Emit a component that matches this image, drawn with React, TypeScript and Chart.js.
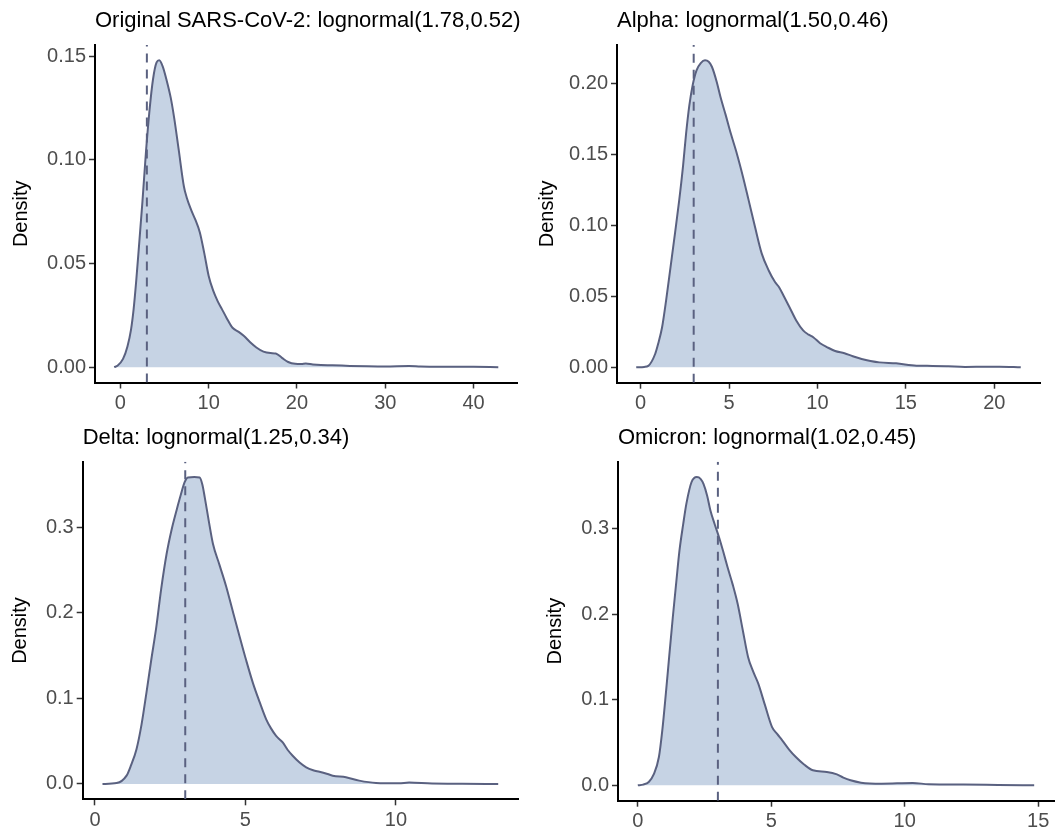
import React, { useEffect, useRef } from "react";
import { Chart, registerables } from "chart.js";

Chart.register(...registerables);
Chart.defaults.font.family = "'Liberation Sans', Arial, Helvetica, sans-serif";

// ---------- DATA ----------
const panelTitles = [
  "Original SARS-CoV-2: lognormal(1.78,0.52)",
  "Alpha: lognormal(1.50,0.46)",
  "Delta: lognormal(1.25,0.34)",
  "Omicron: lognormal(1.02,0.45)",
];

const referenceLineX = 3;

const originalX = [-0.7, -0.3, 0.3, 0.8, 1.2, 1.5, 1.8, 2.1, 2.5, 2.9, 3.3, 3.7, 4.1, 4.4, 4.8, 5.2, 5.7, 6.1, 6.6, 7.2, 7.5, 8.0, 8.5, 9.0, 9.5, 10.0, 10.5, 11.0, 11.5, 12.0, 12.7, 13.4, 14.0, 14.7, 15.4, 16.2, 17.0, 17.6, 18.3, 19.0, 19.8, 20.5, 21.0, 21.8, 22.7, 24, 26, 28, 30, 32.7, 34, 36, 38, 40, 42.8];
const originalY = [0, 0.0008, 0.004, 0.010, 0.018, 0.028, 0.042, 0.058, 0.080, 0.104, 0.124, 0.139, 0.147, 0.148, 0.145, 0.139, 0.130, 0.120, 0.105, 0.087, 0.082, 0.076, 0.071, 0.065, 0.055, 0.044, 0.037, 0.032, 0.028, 0.024, 0.019, 0.017, 0.015, 0.012, 0.0095, 0.0075, 0.0068, 0.0066, 0.0045, 0.0025, 0.0016, 0.0015, 0.0018, 0.0013, 0.0010, 0.0009, 0.0006, 0.0004, 0.0003, 0.0005, 0.0003, 0.0002, 0.0002, 0.00015, 0];

const alphaX = [-0.25, 0.2, 0.43, 0.82, 1.0, 1.21, 1.45, 1.69, 1.95, 2.18, 2.4, 2.57, 2.75, 2.95, 3.16, 3.4, 3.64, 3.85, 4.03, 4.3, 4.52, 4.8, 5.1, 5.45, 5.79, 6.1, 6.47, 6.85, 7.25, 7.6, 7.83, 8.1, 8.42, 8.8, 9.19, 9.5, 9.78, 10.15, 10.56, 11.0, 11.53, 12.0, 12.5, 13.0, 13.5, 14.45, 15.6, 16.5, 17.4, 18.35, 19.3, 20.3, 21.5];
const alphaY = [0, 0.0003, 0.001, 0.0094, 0.017, 0.028, 0.048, 0.0705, 0.095, 0.1175, 0.142, 0.1645, 0.184, 0.199, 0.209, 0.214, 0.216, 0.215, 0.2115, 0.201, 0.190, 0.178, 0.1645, 0.150, 0.134, 0.118, 0.0987, 0.080, 0.068, 0.060, 0.0564, 0.050, 0.0423, 0.033, 0.026, 0.023, 0.021, 0.017, 0.0141, 0.0115, 0.0099, 0.0078, 0.0059, 0.0045, 0.0035, 0.0028, 0.0012, 0.001, 0.0007, 0.0003, 0.0004, 0.0005, 0];

const deltaX = [0.25, 0.72, 1.05, 1.2, 1.38, 1.55, 1.71, 1.87, 2.04, 2.2, 2.38, 2.55, 2.71, 2.85, 2.98, 3.09, 3.3, 3.48, 3.57, 3.65, 3.78, 3.92, 4.14, 4.36, 4.58, 4.81, 5.03, 5.25, 5.47, 5.69, 5.85, 6.02, 6.24, 6.4, 6.57, 6.8, 7.02, 7.25, 7.46, 7.7, 7.9, 8.34, 8.78, 9.34, 10.1, 10.44, 11.2, 12.2, 13.4];
const deltaY = [0, 0.001, 0.0097, 0.022, 0.0407, 0.07, 0.1066, 0.145, 0.184, 0.228, 0.269, 0.298, 0.320, 0.338, 0.353, 0.3585, 0.359, 0.3585, 0.350, 0.335, 0.308, 0.281, 0.256, 0.231, 0.202, 0.172, 0.144, 0.118, 0.096, 0.0756, 0.065, 0.0562, 0.0485, 0.040, 0.033, 0.025, 0.0194, 0.016, 0.0143, 0.012, 0.0097, 0.0078, 0.0039, 0.0012, 0.0008, 0.0016, 0.0004, 0.0002, 0];

const omicronX = [0, 0.2, 0.41, 0.6, 0.79, 0.92, 1.05, 1.18, 1.31, 1.44, 1.56, 1.7, 1.82, 2.01, 2.21, 2.35, 2.46, 2.6, 2.72, 2.88, 3.04, 3.2, 3.36, 3.55, 3.74, 3.94, 4.13, 4.32, 4.51, 4.77, 5.03, 5.22, 5.41, 5.66, 5.92, 6.24, 6.56, 7.08, 7.46, 7.7, 7.97, 8.36, 9.13, 10.3, 10.9, 12.2, 13.5, 14.85];
const omicronY = [0, 0.0008, 0.0039, 0.013, 0.033, 0.065, 0.107, 0.152, 0.196, 0.237, 0.274, 0.305, 0.329, 0.354, 0.360, 0.358, 0.352, 0.338, 0.321, 0.305, 0.290, 0.273, 0.255, 0.235, 0.212, 0.180, 0.150, 0.133, 0.119, 0.093, 0.068, 0.060, 0.0525, 0.042, 0.033, 0.024, 0.0175, 0.0156, 0.0128, 0.009, 0.0058, 0.0031, 0.0019, 0.0027, 0.0012, 0.0008, 0.0004, 0];

const originalXTicks = [0, 10, 20, 30, 40];
const alphaXTicks = [0, 5, 10, 15, 20];
const deltaXTicks = [0, 5, 10];
const omicronXTicks = [0, 5, 10, 15];

const originalYTicks = [0, 0.05, 0.1, 0.15];
const originalYLabels = ["0.00", "0.05", "0.10", "0.15"];
const alphaYTicks = [0, 0.05, 0.1, 0.15, 0.2];
const alphaYLabels = ["0.00", "0.05", "0.10", "0.15", "0.20"];
const deltaYTicks = [0, 0.1, 0.2, 0.3];
const deltaYLabels = ["0.0", "0.1", "0.2", "0.3"];
const omicronYTicks = [0, 0.1, 0.2, 0.3];
const omicronYLabels = ["0.0", "0.1", "0.2", "0.3"];

// ---------- STYLE ----------
const LINE_COLOR = "#5a6180";
const FILL_COLOR = "#c6d3e4";
const TICK_TEXT = "#4d4d4d";

type PanelDef = {
  title: string;
  xs: number[];
  ys: number[];
  xTicks: number[];
  yTicks: number[];
  yLabels: string[];
  box: { left: number; top: number; width: number; height: number };
  plot: { left: number; top: number; right: number; bottom: number };
  yTitlePad: number;
};

const panels: PanelDef[] = [
  {
    title: panelTitles[0], xs: originalX, ys: originalY, xTicks: originalXTicks, yTicks: originalYTicks, yLabels: originalYLabels,
    box: { left: 0, top: 0, width: 527, height: 418 },
    plot: { left: 95, top: 45, right: 517.5, bottom: 382.5 }, yTitlePad: 9,
  },
  {
    title: panelTitles[1], xs: alphaX, ys: alphaY, xTicks: alphaXTicks, yTicks: alphaYTicks, yLabels: alphaYLabels,
    box: { left: 527, top: 0, width: 528, height: 418 },
    plot: { left: 617, top: 45, right: 1040, bottom: 382.7 }, yTitlePad: 8,
  },
  {
    title: panelTitles[2], xs: deltaX, ys: deltaY, xTicks: deltaXTicks, yTicks: deltaYTicks, yLabels: deltaYLabels,
    box: { left: 0, top: 418, width: 527, height: 419 },
    plot: { left: 82.7, top: 461.7, right: 518, bottom: 799.3 }, yTitlePad: 8.5,
  },
  {
    title: panelTitles[3], xs: omicronX, ys: omicronY, xTicks: omicronXTicks, yTicks: omicronYTicks, yLabels: omicronYLabels,
    box: { left: 527, top: 418, width: 528, height: 419 },
    plot: { left: 618, top: 461.7, right: 1054, bottom: 800.7 }, yTitlePad: 16,
  },
];

const panelTitlePlugin = {
  id: "panelTitle",
  afterDraw(chart: any, _args: any, opts: any) {
    const { ctx, chartArea } = chart;
    ctx.save();
    ctx.font = "22px 'Liberation Sans', Arial, sans-serif";
    ctx.fillStyle = "#000000";
    ctx.textAlign = "left";
    ctx.textBaseline = "alphabetic";
    ctx.fillText(opts.text, chartArea.left, chartArea.top - 18);
    ctx.restore();
  },
};

function Panel({ p }: { p: PanelDef }) {
  const ref = useRef<HTMLCanvasElement | null>(null);
  useEffect(() => {
    if (!ref.current) return;
    const xMinD = Math.min(...p.xs);
    const xMaxD = Math.max(...p.xs);
    const yMaxD = Math.max(...p.ys);
    const xr = xMaxD - xMinD;
    const xMin = xMinD - 0.05 * xr;
    const xMax = xMaxD + 0.05 * xr;
    const yMin = -0.05 * yMaxD;
    const yMax = 1.05 * yMaxD;

    const yW = p.plot.left - p.box.left;
    const xH = p.box.top + p.box.height - p.plot.bottom;
    const padTop = p.plot.top - p.box.top;
    const padRight = p.box.left + p.box.width - p.plot.right;

    const gridOpts = {
      display: true,
      drawOnChartArea: false,
      drawTicks: true,
      tickLength: 6,
      tickColor: "#333333",
      tickWidth: 1.5,
    };
    const borderOpts = { display: true, color: "#000000", width: 2 };

    const chart = new Chart(ref.current, {
      type: "line",
      data: {
        datasets: [
          {
            data: [
              { x: referenceLineX, y: yMin },
              { x: referenceLineX, y: yMax },
            ],
            borderColor: LINE_COLOR,
            borderWidth: 2,
            borderDash: [9, 7],
            pointRadius: 0,
            fill: false,
            tension: 0,
          },
          {
            data: p.xs.map((x, i) => ({ x, y: p.ys[i] })),
            borderColor: LINE_COLOR,
            backgroundColor: FILL_COLOR,
            borderWidth: 2,
            pointRadius: 0,
            fill: "origin",
            cubicInterpolationMode: "monotone",
          },
        ],
      },
      options: {
        responsive: false,
        animation: false,
        events: [],
        layout: { padding: { left: 0, top: padTop, right: padRight, bottom: 0 } },
        plugins: {
          legend: { display: false },
          tooltip: { enabled: false },
          title: { display: false },
          // @ts-ignore
          panelTitle: { text: p.title },
        },
        scales: {
          x: {
            type: "linear",
            min: xMin,
            max: xMax,
            afterFit: (s: any) => { s.height = xH; },
            afterBuildTicks: (s: any) => { s.ticks = p.xTicks.map((v) => ({ value: v })); },
            ticks: {
              autoSkip: false,
              maxRotation: 0,
              color: TICK_TEXT,
              font: { size: 20 },
              padding: 3,
              callback: (v: any) => String(v),
            },
            grid: gridOpts,
            border: borderOpts,
          },
          y: {
            type: "linear",
            min: yMin,
            max: yMax,
            afterFit: (s: any) => { s.width = yW; },
            afterBuildTicks: (s: any) => { s.ticks = p.yTicks.map((v) => ({ value: v })); },
            ticks: {
              autoSkip: false,
              color: TICK_TEXT,
              font: { size: 20 },
              padding: 3,
              callback: (_v: any, i: number) => p.yLabels[i],
            },
            title: {
              display: true,
              text: "Density",
              color: "#000000",
              font: { size: 20 },
              padding: { top: p.yTitlePad, bottom: 0 },
            },
            grid: gridOpts,
            border: borderOpts,
          },
        },
      } as any,
      plugins: [panelTitlePlugin],
    });
    return () => chart.destroy();
  }, [p]);

  return (
    <canvas
      ref={ref}
      width={p.box.width}
      height={p.box.height}
      style={{
        position: "absolute",
        left: p.box.left,
        top: p.box.top,
        width: p.box.width,
        height: p.box.height,
      }}
    />
  );
}

export default function App() {
  return (
    <div
      style={{
        position: "absolute",
        left: 0,
        top: 0,
        width: 1055,
        height: 837,
        background: "#ffffff",
        overflow: "hidden",
      }}
    >
      {panels.map((p, i) => (
        <Panel key={i} p={p} />
      ))}
    </div>
  );
}
